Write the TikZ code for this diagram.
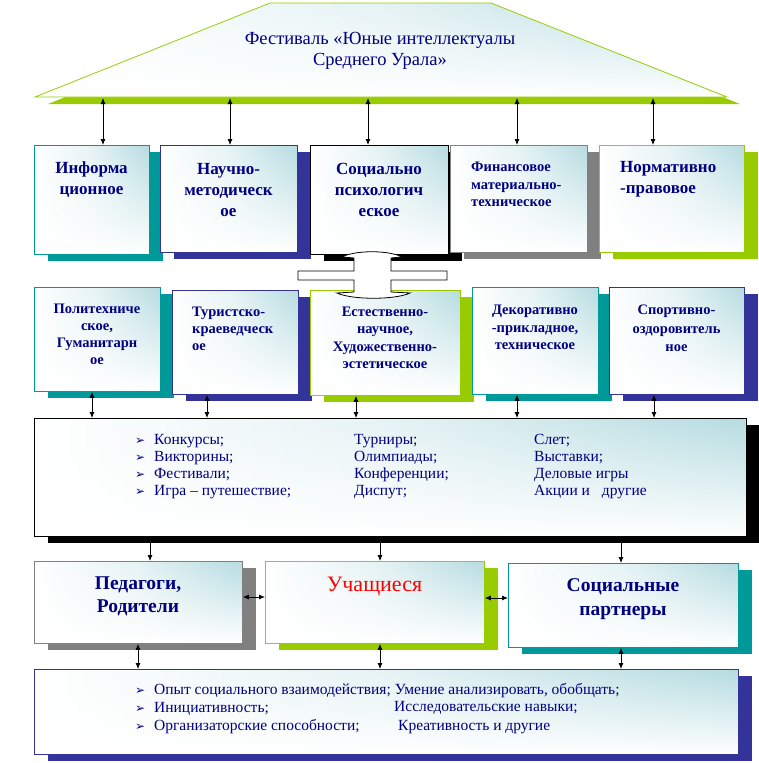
\documentclass[tikz,border=0pt]{standalone}
\usepackage{fontspec}
\setmainfont{Liberation Serif}
\newfontfamily\zeichenfont{DejaVu Sans}
\usetikzlibrary{arrows.meta,shadows,fadings}

\definecolor{dunkelblau}{RGB}{0,0,128}
\definecolor{tuerkis}{RGB}{0,153,153}
\definecolor{violett}{RGB}{51,51,153}
\definecolor{grau}{RGB}{128,128,128}
\definecolor{gruen}{RGB}{153,204,0}
\definecolor{hauch}{RGB}{182,220,225}

\newcommand{\punkt}{\makebox[19pt][l]{\zeichenfont\fontsize{12}{12}\selectfont ➢}}

\tikzset{
	verlauf/.style={preaction={left color=white, right color=hauch, middle color=hauch!35},
		preaction={fill=white, path fading=north}},
	kasten/.style={drop shadow={shadow xshift=14pt, shadow yshift=-7pt, fill=#1, opacity=1},
		verlauf, draw=#1, line width=0.8pt, anchor=north west, inner sep=0pt},
	beschr/.style={text=dunkelblau, align=center, inner sep=0pt},
	links/.style={text=dunkelblau, align=left, anchor=west, inner sep=0pt},
	liste/.style={links, font=\fontsize{15.5}{17}\selectfont},
	pfeil/.style={{Latex[length=6pt,width=5pt]}-{Latex[length=6pt,width=5pt]}, line width=0.8pt}
}

\begin{document}
\begin{tikzpicture}[x=1pt, y=-1pt]
	\useasboundingbox (0,0) rectangle (759,763);
	% Festival oben
	\draw[drop shadow={shadow xshift=13pt, shadow yshift=-7pt, fill=gruen, opacity=1},
		verlauf, draw=gruen, line width=0.8pt]
		(270,3) -- (491,3) -- (727,97) -- (35,97) -- cycle;
	\node[beschr, font=\fontsize{18.5}{21}\selectfont] (fest-t) at (380,50.5)
		{Фестиваль «Юные интеллектуалы\\Среднего Урала»};
	% Obere Reihe
	\node[kasten=tuerkis, minimum width=115pt, minimum height=109pt] (info) at (34,145) {};
	\node[kasten=violett, minimum width=137pt, minimum height=107pt] (nauch) at (160,145) {};
	\node[kasten=black, minimum width=138pt, minimum height=109pt] (soc) at (310,145) {};
	\node[kasten=grau, minimum width=137pt, minimum height=107pt] (fin) at (450,145) {};
	\node[kasten=gruen, minimum width=145pt, minimum height=107pt] (norm) at (599,145) {};
	\node[beschr, font=\bfseries\fontsize{17}{21}\selectfont] (info-t) at (91.5,179.5) {Информа\\ционное};
	\node[beschr, font=\bfseries\fontsize{17}{21}\selectfont] (nauch-t) at (228.5,190) {Научно-\\методическ\\ое};
	\node[beschr, font=\bfseries\fontsize{17}{21}\selectfont] (soc-t) at (379,190) {Социально\\психологич\\еское};
	\node[links, font=\bfseries\fontsize{14.5}{17.5}\selectfont] (fin-t) at (471,184.5) {Финансовое\\материально-\\техническое};
	\node[links, font=\bfseries\fontsize{17}{21}\selectfont] (norm-t) at (620,179.5) {Нормативно\\-правовое};
	\foreach \x/\ziel in {103/info,230/nauch,368/soc,517/fin,653/norm}{
		\coordinate (f-\ziel) at (\x,98);
		\draw[pfeil] (f-\ziel) -- (f-\ziel |- \ziel.north);
	}
	% Zweite Reihe
	\node[kasten=tuerkis, minimum width=126pt, minimum height=104pt] (polyt) at (34,287) {};
	\node[kasten=violett, minimum width=126pt, minimum height=104pt] (turist) at (172,290) {};
	\node[kasten=gruen, minimum width=150pt, minimum height=105pt] (estest) at (310,290) {};
	\node[kasten=tuerkis, minimum width=126pt, minimum height=107pt] (dekor) at (472,287) {};
	\node[kasten=violett, minimum width=135pt, minimum height=107pt] (sport) at (609,287) {};
	\node[beschr, font=\bfseries\fontsize{14.5}{17}\selectfont] (polyt-t) at (97,334.5) {Политехниче\\ское,\\Гуманитарн\\ое};
	\node[links, font=\bfseries\fontsize{14.5}{17}\selectfont] (turist-t) at (192,328.5) {Туристско-\\краеведческ\\ое};
	\node[beschr, font=\bfseries\fontsize{14.5}{17.5}\selectfont] (estest-t) at (385,338) {Естественно-\\научное,\\Художественно-\\эстетическое};
	\node[beschr, font=\bfseries\fontsize{14.5}{17.5}\selectfont] (dekor-t) at (535,327.5) {Декоративно\\-прикладное,\\техническое};
	\node[beschr, font=\bfseries\fontsize{14.5}{18.5}\selectfont] (sport-t) at (676.5,328.5) {Спортивно-\\оздоровитель\\ное};
	% Blockpfeil
	\draw[fill=white, line width=0.8pt] (342,257) .. controls (355,250) and (389,250) .. (402,257)
		-- (391,258) -- (391,271) -- (447,271) -- (447,280) -- (391,280) -- (391,292) -- (410,293)
		.. controls (395,300) and (352,300) .. (337,293) -- (354,292) -- (354,280) -- (298,280)
		-- (298,271) -- (354,271) -- (354,258) -- cycle;
	% Formen
	\node[kasten=black, minimum width=712pt, minimum height=118pt] (formen) at (34,418) {};
	\node[liste] (formen-a) at (135,467) {\punkt Конкурсы;\\\punkt Викторины;\\\punkt Фестивали;\\\punkt Игра – путешествие;};
	\node[liste] (formen-b) at (354,467) {Турниры;\\Олимпиады;\\Конференции;\\Диспут;};
	\node[liste] (formen-c) at (534,467) {Слет;\\Выставки;\\Деловые игры\\Акции и\hspace{12pt}другие};
	\foreach \x/\quelle in {92/polyt,207/turist,356/estest,517/dekor,654/sport}
		\draw[pfeil] (\x,0 |- \quelle.south) -- (\x,0 |- formen.north);
	% Dritte Reihe
	\node[kasten=grau, minimum width=208pt, minimum height=82pt] (pedag) at (34,561) {};
	\node[kasten=gruen, minimum width=219pt, minimum height=82pt] (uchasch) at (265,561) {};
	\node[kasten=tuerkis, minimum width=230pt, minimum height=84pt] (partner) at (508,563) {};
	\node[beschr, font=\bfseries\fontsize{19.5}{23}\selectfont] (pedag-t) at (138,596.5) {Педагоги,\\Родители};
	\node[beschr, text=red, font=\fontsize{22}{24}\selectfont] (uchasch-t) at (374.5,587) {Учащиеся};
	\node[beschr, font=\bfseries\fontsize{19.5}{24}\selectfont] (partner-t) at (623,599) {Социальные\\партнеры};
	\foreach \x/\ziel in {150/pedag,380/uchasch,621/partner}
		\draw[pfeil] (\x,0 |- formen.south) -- (\x,0 |- \ziel.north);
	\draw[pfeil] (pedag.east |- 0,597) -- (uchasch.west |- 0,597);
	\draw[pfeil] (uchasch.east |- 0,598) -- (partner.west |- 0,598);
	% Ergebnisse unten
	\node[kasten=violett, minimum width=704pt, minimum height=85pt] (ergeb) at (34,669) {};
	\node[liste, font=\fontsize{15.5}{18}\selectfont] (ergeb-a) at (135,709)
		{\punkt Опыт социального взаимодействия; Умение анализировать, обобщать;\\\punkt Инициативность;\\\punkt Организаторские способности;};
	\node[liste, font=\fontsize{15.5}{19}\selectfont] (ergeb-b) at (394,717.5) {Исследовательские навыки;\\\hspace{4pt}Креативность и другие};
	\foreach \x/\quelle in {138/pedag,380/uchasch,621/partner}
		\draw[pfeil] (\x,0 |- \quelle.south) -- (\x,0 |- ergeb.north);
\end{tikzpicture}
\end{document}
